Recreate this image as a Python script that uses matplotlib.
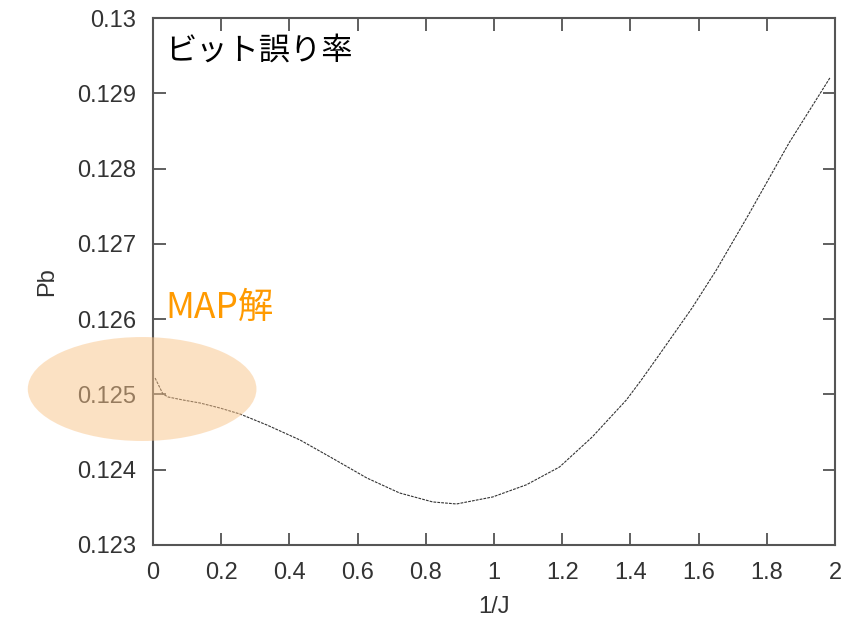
import matplotlib
matplotlib.use("Agg")
import matplotlib.pyplot as plt
from matplotlib.patches import Ellipse

plt.rcParams['font.family'] = ['Liberation Sans', 'Noto Sans CJK JP', 'DejaVu Sans']

# curve (1/J vs Pb)
inv_j = [0.006, 0.029, 0.044, 0.088, 0.138, 0.196, 0.255, 0.334, 0.431, 0.527,
         0.627, 0.723, 0.820, 0.890, 0.996, 1.095, 1.192, 1.288, 1.388, 1.432,
         1.485, 1.581, 1.652, 1.748, 1.865, 1.985]
pb = [0.125218, 0.125006, 0.124966, 0.124926, 0.124886, 0.124820, 0.124740,
      0.124594, 0.124395, 0.124150, 0.123890, 0.123691, 0.123572, 0.123545,
      0.123638, 0.123800, 0.124036, 0.124435, 0.124926, 0.125192, 0.125530,
      0.126150, 0.126653, 0.127400, 0.128340, 0.129205]

x_ticks = [0, 0.2, 0.4, 0.6, 0.8, 1, 1.2, 1.4, 1.6, 1.8, 2]
x_tick_labels = ['0', '0.2', '0.4', '0.6', '0.8', '1', '1.2', '1.4', '1.6', '1.8', '2']
y_ticks = [0.123, 0.124, 0.125, 0.126, 0.127, 0.128, 0.129, 0.13]
y_tick_labels = ['0.123', '0.124', '0.125', '0.126', '0.127', '0.128', '0.129', '0.13']

title_text = 'ビット誤り率'
note_text = 'MAP解'

fig = plt.figure(figsize=(8.45, 6.17), dpi=100)
ax = fig.add_axes([0.1811, 0.1167, 0.8071, 0.8541])

ax.plot(inv_j, pb, color='#333333', linewidth=0.8, linestyle=(0, (2.5, 1)))

ax.set_xlim(0, 2)
ax.set_ylim(0.123, 0.13)
ax.set_xticks(x_ticks)
ax.set_xticklabels(x_tick_labels)
ax.set_yticks(y_ticks)
ax.set_yticklabels(y_tick_labels)
ax.tick_params(direction='in', length=9, width=1.2, color='#444444',
               labelsize=17, labelcolor='#333333', top=True, right=True, pad=12)
for sp in ax.spines.values():
    sp.set_color('#555555')
    sp.set_linewidth(1.5)

ax.set_xlabel('1/J', fontsize=17, color='#333333', labelpad=9)
ax.set_ylabel('Pb', fontsize=17, color='#333333', labelpad=14)

ax.text(0.0176, 0.939, title_text, transform=ax.transAxes, fontsize=22.5,
        va='center', ha='left', color='black', family=['Noto Sans CJK JP'])
ax.text(0.0176, 0.45, note_text, transform=ax.transAxes, fontsize=25.5,
        va='center', ha='left', color='#ff9a00', family=['Noto Sans CJK JP'])

ell = Ellipse((-0.032, 0.125072), 0.6706, 0.001381, facecolor='#f9c489',
              alpha=0.5, edgecolor='none', clip_on=False, zorder=5)
ax.add_patch(ell)

fig.savefig('out.png', dpi=100)
